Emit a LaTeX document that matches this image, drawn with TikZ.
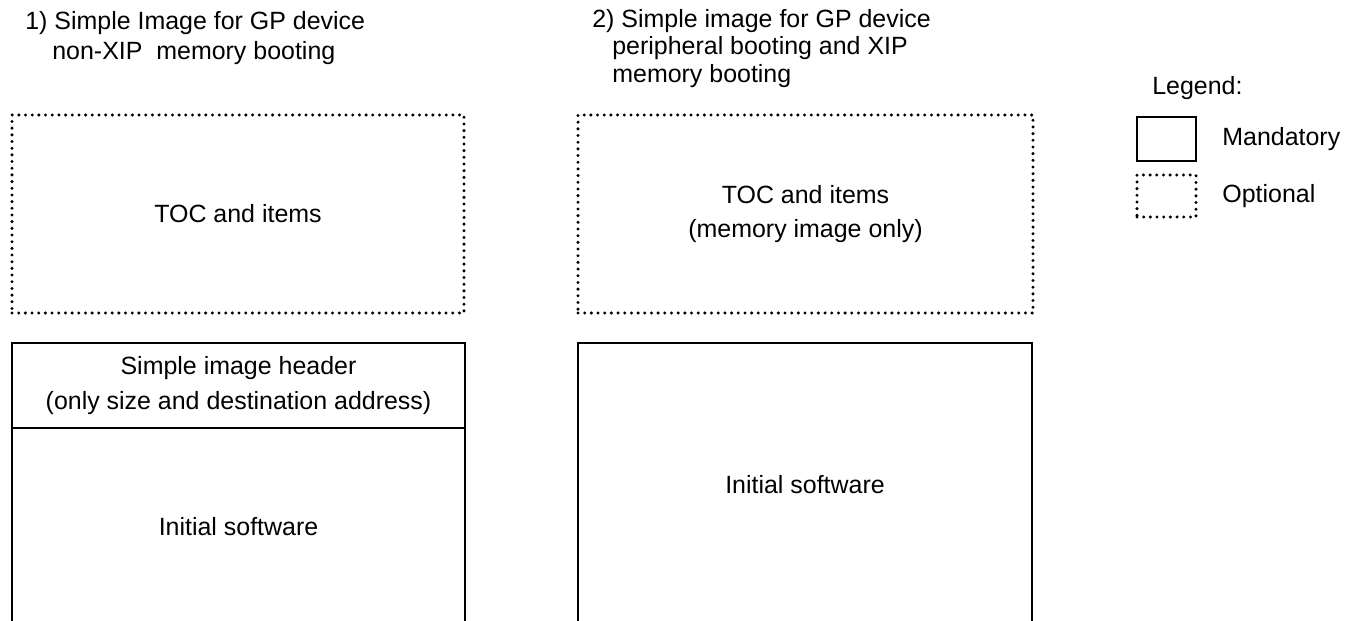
\documentclass[tikz,border=0pt]{standalone}
\usepackage{fontspec}
\setmainfont{Liberation Sans}
\usetikzlibrary{positioning}

\tikzset{
  manbox/.style={draw,line width=1.3pt,inner sep=0pt,outer sep=0pt,align=center},
  optbox/.style={draw,line width=1.9pt,dash pattern=on 0pt off 3.8pt,line cap=round,inner sep=0pt,outer sep=0pt,align=center},
  titletext/.style={anchor=north west,inner sep=0pt,align=left},
}

\begin{document}
\begin{tikzpicture}[x=1cm,y=1cm,font=\fontsize{14.2}{19.5}\selectfont]
\useasboundingbox (0,0) rectangle (27.08,12.42);
\clip (0,0) rectangle (27.08,12.42);
% titles
\node[titletext,font=\fontsize{14.2}{16.8}\selectfont] (title1) at (0.50,12.19) {1) Simple Image for GP device\\\hspace*{0.54cm}non-XIP\ \ memory booting};
\node[titletext,font=\fontsize{14.2}{15.4}\selectfont] (title2) at (11.84,12.23) {2) Simple image for GP device\\\hspace*{0.40cm}peripheral booting and XIP\\\hspace*{0.40cm}memory booting};
% image 1
\node[optbox,minimum width=9.04cm,minimum height=3.96cm] (toc1) at (4.76,8.14) {TOC and items};
\node[manbox,minimum width=9.06cm,minimum height=1.70cm] (hdr1) at (4.77,4.71) {Simple image header\\(only size and destination address)};
\node[manbox,minimum width=9.06cm,minimum height=3.96cm,below=0pt of hdr1] (sw1) {Initial software};
% image 2
\node[optbox,minimum width=9.10cm,minimum height=3.96cm] (toc2) at (16.11,8.14) {TOC and items\\(memory image only)};
\node[manbox,minimum width=9.08cm,minimum height=5.66cm] (sw2) at (16.10,2.73) {Initial software};
% legend
\node[anchor=west,inner sep=0pt] (legend) at (23.04,10.66) {Legend:};
\node[manbox,minimum width=1.18cm,minimum height=0.88cm] (legman) at (23.33,9.64) {};
\node[optbox,minimum width=1.18cm,minimum height=0.84cm] (legopt) at (23.33,8.50) {};
\node[right=0.52cm of legman,inner sep=0pt] (legmantext) {Mandatory};
\node[right=0.52cm of legopt,inner sep=0pt] (legopttext) {Optional};
\end{tikzpicture}
\end{document}
